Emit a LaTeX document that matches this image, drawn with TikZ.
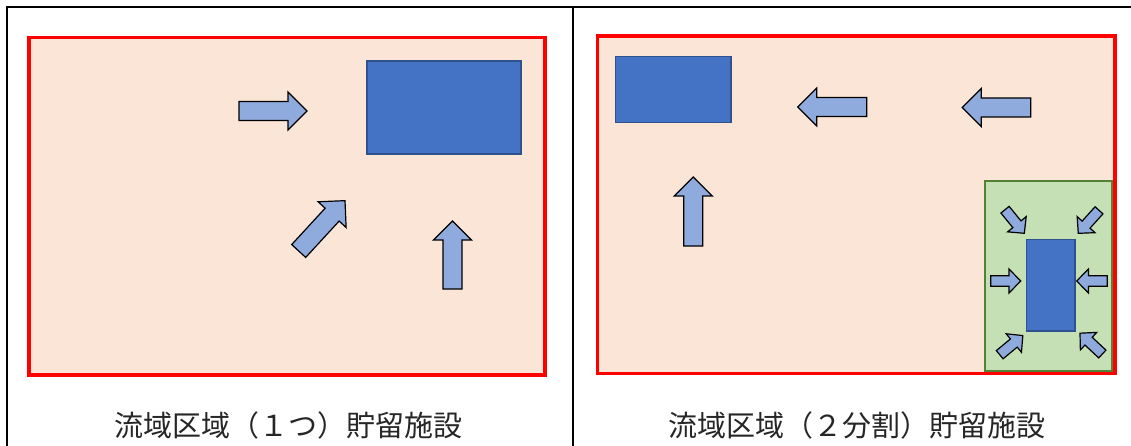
\documentclass[tikz,border=0pt]{standalone}
\usepackage{fontspec}
\newfontfamily\cjk{Noto Sans CJK JP}
\definecolor{basin}{HTML}{FBE5D6}
\definecolor{redline}{HTML}{FF0000}
\definecolor{tankfill}{HTML}{4472C4}
\definecolor{tankline}{HTML}{2F528F}
\definecolor{arrowfill}{HTML}{8FAADC}
\definecolor{greenfill}{HTML}{C5E0B4}
\definecolor{greenline}{HTML}{538135}
\tikzset{
  frameline/.style={line width=2pt, black},
  basinbox/.style={fill=basin, draw=redline, line width=3.6pt},
  tankbox/.style={fill=tankfill, draw=tankline, line width=1.5pt},
  subbox/.style={fill=greenfill, draw=greenline, line width=2pt},
  arrowbody/.style={fill=arrowfill, draw=black, line width=1.2pt, line join=miter},
  caption/.style={font=\cjk\fontsize{29}{32}\selectfont, inner sep=0pt, text=black!85}
}
% big block arrow: tail x, tail y, angle, length
\newcommand{\bigarrow}[4]{%
  \draw[arrowbody, shift={(#1,#2)}, rotate=#3]
    (0,-9.5) -- ({#4-19},-9.5) -- ({#4-19},-19) -- (#4,0) -- ({#4-19},19) -- ({#4-19},9.5) -- (0,9.5) -- cycle;}
% small block arrow
\newcommand{\smallarrow}[4]{%
  \draw[arrowbody, shift={(#1,#2)}, rotate=#3]
    (0,-5.3) -- ({#4-11.7},-5.3) -- ({#4-11.7},-12) -- (#4,0) -- ({#4-11.7},12) -- ({#4-11.7},5.3) -- (0,5.3) -- cycle;}
\begin{document}
\begin{tikzpicture}[x=1pt, y=-1pt]
\useasboundingbox (0,0) rectangle (1131,446);
% table frame
\draw[frameline] (6.7,446) -- (6.7,7.3) -- (1131,7.3);
\draw[frameline] (572.7,7.3) -- (572.7,446);
% left panel
\draw[basinbox] (28.8,37.5) rectangle (545,375);
\draw[tankbox] (367,61) rectangle (521,154);
\bigarrow{239}{111}{0}{68}
\bigarrow{298.7}{251}{47.4}{68.4}
\bigarrow{452.5}{289}{90}{68}
% right panel
\draw[basinbox] (597.3,36.2) rectangle (1114.7,373.5);
\draw[tankbox] (615.7,56.7) rectangle (731,122.7);
\bigarrow{866.7}{107}{180}{69}
\bigarrow{1030.7}{107.5}{180}{68.5}
\bigarrow{693.3}{246}{90}{69}
\draw[subbox] (985,181) rectangle (1111.7,371);
\draw[tankbox] (1026.7,239.3) rectangle (1075,331);
\smallarrow{990.7}{281}{0}{30}
\smallarrow{1107.3}{281}{180}{30.6}
\smallarrow{1005}{209.7}{-50.7}{30.5}
\smallarrow{1099}{210.3}{-132}{31}
\smallarrow{999.7}{354.7}{39.6}{30}
\smallarrow{1102.3}{354}{137}{30.5}
% captions
\node[caption] (cap1) at (288.5,425.5) {流域区域（１つ）貯留施設};
\node[caption] (cap2) at (857,425.5) {流域区域（２分割）貯留施設};
\end{tikzpicture}
\end{document}
